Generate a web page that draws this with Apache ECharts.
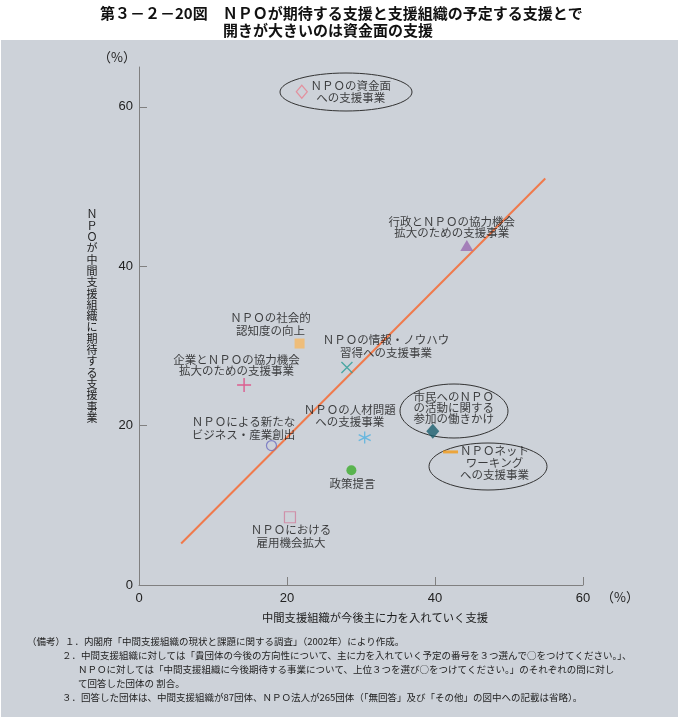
<!DOCTYPE html>
<html><head><meta charset="utf-8">
<script src="https://cdn.jsdelivr.net/npm/echarts@6/dist/echarts.min.js"></script>
<style>html,body{margin:0;padding:0;background:#fff}#c{width:682px;height:720px}</style>
</head><body><div id="c"></div>
<script>
// ---- data ----
var names = [
  'ＮＰＯの資金面\nへの支援事業',
  '行政とＮＰＯの協力機会\n拡大のための支援事業',
  'ＮＰＯの社会的\n認知度の向上',
  'ＮＰＯの情報・ノウハウ\n習得への支援事業',
  '企業とＮＰＯの協力機会\n拡大のための支援事業',
  'ＮＰＯの人材問題\nへの支援事業',
  'ＮＰＯによる新たな\nビジネス・産業創出',
  '市民へのＮＰＯ\nの活動に関する\n参加の働きかけ',
  'ＮＰＯネット\nワーキング\nへの支援事業',
  '政策提言',
  'ＮＰＯにおける\n雇用機会拡大'
];
var supportOrgPct = [22.0, 44.3, 21.7, 28.1, 14.2, 30.5, 17.9, 39.7, 42.1, 28.7, 20.4];
var npoPct        = [61.9, 42.6, 30.3, 27.3, 25.1, 18.5, 17.5, 19.3, 16.7, 14.4, 8.5];
var trendX = [5.7, 54.9];
var trendY = [5.2, 51.0];
var xTicks = [0, 20, 40, 60];
var yTicks = [0, 20, 40, 60];
var title1 = '第３－２－20図　ＮＰＯが期待する支援と支援組織の予定する支援とで';
var title2 = '開きが大きいのは資金面の支援';
var xName = '中間支援組織が今後主に力を入れていく支援';
var yName = 'ＮＰＯが中間支援組織に期待する支援事業';
var notes = [
  '（備考）１．内閣府「中間支援組織の現状と課題に関する調査」（2002年）により作成。',
  '２．中間支援組織に対しては「貴団体の今後の方向性について、主に力を入れていく予定の番号を３つ選んで○をつけてください。」、',
  'ＮＰＯに対しては「中間支援組織に今後期待する事業について、上位３つを選び○をつけてください。」のそれぞれの問に対し',
  'て回答した団体の 割合。',
  '３．回答した団体は、中間支援組織が87団体、ＮＰＯ法人が265団体（「無回答」及び「その他」の図中への記載は省略）。'
];

// ---- styles ----
var FONT = '"Noto Sans CJK JP", "Noto Sans", sans-serif';
var markerStyles = [
  {symbol: 'diamond', size: [11, 13], color: 'none', border: '#e8808f', bw: 1.2},
  {symbol: 'triangle', size: [13, 11], color: '#9a6cb0', border: '#9a6cb0', bw: 0},
  {symbol: 'rect', size: 10, color: '#f6b861', border: '#f6b861', bw: 0},
  {symbol: 'path://M0,0L10,10M10,0L0,10', size: 11, color: 'none', border: '#2a9c96', bw: 1.4},
  {symbol: 'path://M5,0L5,10M0,5L10,5', size: 14, color: 'none', border: '#e0407c', bw: 1.4},
  {symbol: 'path://M5,0L5,10M0.7,2.5L9.3,7.5M0.7,7.5L9.3,2.5', size: 12, color: 'none', border: '#4fb0e0', bw: 1.3},
  {symbol: 'circle', size: 10, color: 'none', border: '#6e6ec0', bw: 1.2},
  {symbol: 'diamond', size: [13, 15], color: '#1c5f6e', border: '#1c5f6e', bw: 0},
  {symbol: 'rect', size: [15, 3], color: '#f49a14', border: '#f49a14', bw: 0},
  {symbol: 'circle', size: 10, color: '#3cac2c', border: '#3cac2c', bw: 0},
  {symbol: 'rect', size: 11, color: 'none', border: '#d0809c', bw: 1.2}
];
var labelOffsets = [[49,0],[-15,-18],[-29,-19.5],[39,-21.5],[-7.5,-19.5],[-15,-22],[-28,-17.5],[21,-24],[44,11],[1,13],[1,18.5]];
var labelLH = [12,11,13,13,11,12,13,11,12,13,13];

var data = names.map(function(n, i){
  var s = markerStyles[i];
  return {
    name: n,
    value: [supportOrgPct[i], npoPct[i]],
    symbol: s.symbol,
    symbolSize: s.size,
    itemStyle: {color: s.color, borderColor: s.border, borderWidth: s.bw},
    label: {show: true, formatter: '{b}', position: 'inside', offset: labelOffsets[i],
      align: 'center', verticalAlign: 'middle', fontSize: 11.5, lineHeight: labelLH[i],
      color: '#151515', fontFamily: FONT}
  };
});

var graphics = [
  {type: 'rect', z: -10, shape: {x: 1, y: 40, width: 677, height: 677}, style: {fill: '#cdd2d9'}},
  {type: 'text', style: {text: title1, x: 100, y: 13, fill: '#111', font: 'bold 15px ' + FONT, textVerticalAlign: 'middle'}},
  {type: 'text', style: {text: title2, x: 223, y: 30, fill: '#111', font: 'bold 15px ' + FONT, textVerticalAlign: 'middle'}},
  {type: 'text', style: {text: '（%）', x: 117, y: 57, fill: '#222', font: '13px ' + FONT, textAlign: 'center', textVerticalAlign: 'middle'}},
  {type: 'text', style: {text: '（%）', x: 620, y: 597, fill: '#222', font: '13px ' + FONT, textAlign: 'center', textVerticalAlign: 'middle'}},
  {type: 'text', style: {text: xName, x: 375, y: 618, fill: '#1a1a1a', font: '11.3px ' + FONT, textAlign: 'center', textVerticalAlign: 'middle'}},
  {type: 'text', style: {text: yName.split('').join('\n'), x: 92, y: 316, fill: '#1a1a1a', font: '11px ' + FONT, lineHeight: 11.3, textAlign: 'center', textVerticalAlign: 'middle'}},
  {type: 'ellipse', shape: {cx: 346, cy: 92, rx: 66, ry: 19}, style: {fill: 'none', stroke: '#333', lineWidth: 1}},
  {type: 'ellipse', shape: {cx: 454, cy: 411, rx: 54, ry: 27}, style: {fill: 'none', stroke: '#333', lineWidth: 1}},
  {type: 'ellipse', shape: {cx: 488, cy: 466.5, rx: 59, ry: 23.5}, style: {fill: 'none', stroke: '#333', lineWidth: 1}}
];
var noteX = [27, 62, 78, 78, 62];
var noteY = [641, 655, 669, 683, 697];
notes.forEach(function(t, i){
  graphics.push({type: 'text', style: {text: t, x: noteX[i], y: noteY[i], fill: '#222', font: '9.5px ' + FONT, textVerticalAlign: 'middle'}});
});

var axisCommon = {
  type: 'value',
  splitLine: {show: false},
  axisLine: {show: true, lineStyle: {color: '#808080', width: 1}},
  axisTick: {show: true, inside: true, length: 8, lineStyle: {color: '#808080'}},
  axisLabel: {color: '#222', fontSize: 13, fontFamily: 'Liberation Sans, Arial, sans-serif'}
};

var chart = echarts.init(document.getElementById('c'));
chart.setOption({
  backgroundColor: '#ffffff',
  animation: false,
  grid: {left: 139, right: 99, top: 67, bottom: 135, containLabel: false},
  xAxis: Object.assign({}, axisCommon, {min: 0, max: 60, interval: 20,
    axisTick: Object.assign({}, axisCommon.axisTick, {customValues: xTicks.slice(1)}),
    axisLabel: Object.assign({}, axisCommon.axisLabel, {customValues: xTicks, margin: 7})}),
  yAxis: Object.assign({}, axisCommon, {min: 0, max: 65, interval: 20,
    axisTick: Object.assign({}, axisCommon.axisTick, {customValues: yTicks.slice(1)}),
    axisLabel: Object.assign({}, axisCommon.axisLabel, {customValues: yTicks, margin: 6})}),
  graphic: graphics,
  series: [
    {type: 'line', data: [[trendX[0], trendY[0]], [trendX[1], trendY[1]]], symbol: 'none',
      lineStyle: {color: '#f07a4c', width: 2}, z: 1, silent: true},
    {type: 'scatter', data: data, z: 3}
  ]
});
</script></body></html>
